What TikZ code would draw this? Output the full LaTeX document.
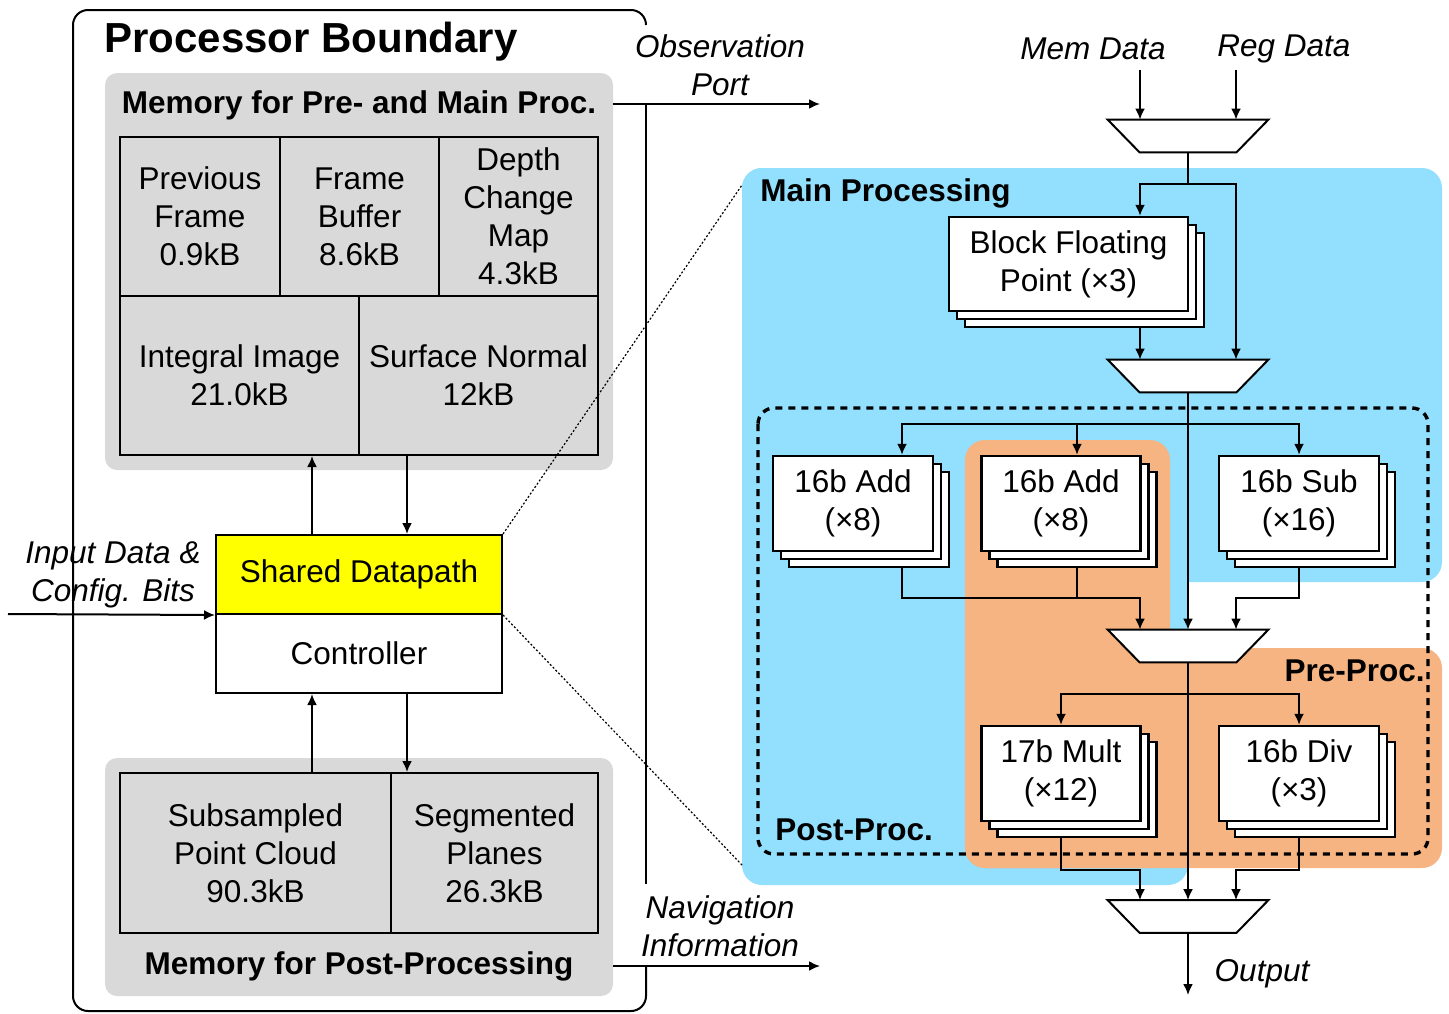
\documentclass[tikz,border=0pt]{standalone}
\usepackage{fontspec}
\setmainfont{Liberation Sans}
\usetikzlibrary{arrows.meta,calc}
\definecolor{memgray}{RGB}{217,217,217}
\definecolor{mainblue}{RGB}{146,223,254}
\definecolor{preorange}{RGB}{245,180,130}
\definecolor{dpyellow}{RGB}{255,255,0}
\pgfdeclarelayer{bg}
\pgfdeclarelayer{conn}
\pgfsetlayers{bg,conn,main}
\newcommand\fsn{\fontsize{15.75pt}{19pt}\selectfont}
\newcommand\fst{\fontsize{21pt}{25pt}\selectfont}
\newcommand\muxat[2]{%
  \node[muxnode] (#1) at (#2) {};
  \draw[muxline] (#1.north west) -- (#1.north east) -- ([xshift=-16pt]#1.south east) -- ([xshift=16pt]#1.south west) -- cycle;}
\newcommand\stk[6]{%
  \draw[stackline] ({#2-#4/2+16},{#3-#5/2+16}) rectangle ({#2+#4/2+16},{#3+#5/2+16});
  \draw[stackline] ({#2-#4/2+8},{#3-#5/2+8}) rectangle ({#2+#4/2+8},{#3+#5/2+8});
  \node[stackbox, minimum width=#4*0.5pt, minimum height=#5*0.5pt] (#1) at (#2,#3) {#6};}
\begin{document}
\begin{tikzpicture}[x=0.5pt,y=-0.5pt,
  wire/.style={line width=1pt},
  arr/.style={line width=1pt, -{Latex[length=5.5pt,width=5pt]}},
  cell/.style={draw, line width=1pt, fill=memgray, inner sep=0pt, align=center, font=\fsn},
  membg/.style={fill=memgray, rounded corners=6pt, inner sep=0pt, draw=none},
  stackbox/.style={draw, line width=1.2pt, fill=white, inner sep=0pt, align=center, font=\fsn},
  stackline/.style={line width=1.2pt, fill=white},
  muxnode/.style={inner sep=0pt, minimum width=80pt, minimum height=16pt},
  muxline/.style={line width=1pt, fill=white, line join=miter},
  ilbl/.style={font=\fsn\itshape, align=center, inner sep=0pt},
  blbl/.style={font=\fsn\bfseries, inner sep=0pt},
  dotline/.style={line width=0.6pt, dash pattern=on 1pt off 1pt},
  dashregion/.style={line width=1.7pt, dash pattern=on 3.5pt off 3pt, rounded corners=8pt}]
\useasboundingbox (0,0) rectangle (1449,1013);
% helper coordinates
\coordinate (xL) at (1140,0);
\coordinate (xR) at (1236,0);
\coordinate (xa1) at (902,0);
\coordinate (xa2) at (1077,0);
\coordinate (xup) at (312,0);
\coordinate (xdn) at (407,0);
\coordinate (yo1) at (0,598);
\coordinate (yo2) at (0,870);
% background regions
\begin{pgfonlayer}{bg}
\fill[mainblue, rounded corners=10pt] (742,168) rectangle (1442,582);
\fill[mainblue, rounded corners=10pt] (742,168) rectangle (1188,885);
\fill[preorange, rounded corners=10pt] (965,440) rectangle (1170,868);
\fill[preorange, rounded corners=10pt] (965,648) rectangle (1442,868);
\draw[dashregion] (758,408) rectangle (1428,854);
\end{pgfonlayer}
% processor boundary
\draw[line width=1pt, rounded corners=7.5pt] (646,25) |- (73,10) |- (646,1011) -- (646,966);
\draw[wire] (646,104) -- (646,884);
\node[blbl, font=\fst\bfseries, anchor=west] (title) at (104,42) {Processor Boundary};
% memory for pre- and main processing
\node[membg, minimum width=254pt, minimum height=198.5pt] (memtop) at (359,271.5) {};
\node[blbl] (memtoplbl) at (359,105) {Memory for Pre- and Main Proc.};
\node[cell, minimum width=80pt, minimum height=79.5pt] (prev) at (200,216.5) {Previous\\Frame\\0.9kB};
\node[cell, minimum width=79.5pt, minimum height=79.5pt] (fbuf) at (359.5,216.5) {Frame\\Buffer\\8.6kB};
\node[cell, minimum width=79.5pt, minimum height=79.5pt] (dcm) at (518.5,216.5) {Depth\\Change\\Map\\4.3kB};
\node[cell, minimum width=119.5pt, minimum height=79.5pt] (integ) at (239.5,375.5) {Integral Image\\21.0kB};
\node[cell, minimum width=119.5pt, minimum height=79.5pt] (surf) at (478.5,375.5) {Surface Normal\\12kB};
% datapath and controller
\node[cell, fill=dpyellow, minimum width=143pt, minimum height=39.5pt] (sdp) at (359,574.5) {Shared Datapath};
\node[cell, fill=white, minimum width=143pt, minimum height=39.5pt] (ctrl) at (359,653.5) {Controller};
% memory for post-processing
\node[membg, minimum width=254pt, minimum height=119pt] (mempost) at (359,877) {};
\node[cell, minimum width=135.5pt, minimum height=80pt] (subs) at (255.5,853) {Subsampled\\Point Cloud\\90.3kB};
\node[cell, minimum width=103.5pt, minimum height=80pt] (segp) at (494.5,853) {Segmented\\Planes\\26.3kB};
\node[blbl] (mempostlbl) at (359,966) {Memory for Post-Processing};
% left connectors
\draw[arr] (xup |- sdp.north) -- (xup |- integ.south);
\draw[arr] (xdn |- surf.south) -- (xdn |- sdp.north);
\draw[arr] (xup |- subs.north) -- (xup |- ctrl.south);
\draw[arr] (xdn |- ctrl.south) -- (xdn |- subs.north);
\coordinate (inp) at (8,614);
\draw[arr] (inp) -- (sdp.south west);
\node[ilbl] (inlbl) at (113,575) {Input Data \&\\Config. Bits};
\coordinate (obsend) at (820,104);
\draw[arr] (memtop.east |- obsend) -- (obsend);
\node[ilbl] (obslbl) at (720,65) {Observation\\Port};
\coordinate (navend) at (820,966);
\draw[arr] (mempost.east |- navend) -- (navend);
\node[ilbl] (navlbl) at (720,926) {Navigation\\Information};
% right side labels
\node[blbl, anchor=west] (mainlbl) at (760,193) {Main Processing};
\node[blbl, anchor=east] (prelbl) at (1425,671) {Pre-Proc.};
\node[blbl, anchor=west] (postlbl) at (775,830) {Post-Proc.};
\node[ilbl] (memdlbl) at (1093,49) {Mem Data};
\node[ilbl] (regdlbl) at (1284,49) {Reg Data};
\node[ilbl] (outlbl) at (1262,974) {Output};
% multiplexers
\muxat{m1}{1188,136}
\muxat{m2}{1188,376}
\muxat{m3}{1188,646}
\muxat{m4}{1188,916.5}
% stacked units
\stk{bfp}{1068.5}{264}{239}{94}{Block Floating\\Point (×3)}
\stk{add1}{853}{503.5}{160}{95}{16b Add\\(×8)}
\stk{add2}{1061}{503.5}{159}{95}{16b Add\\(×8)}
\stk{sub}{1299}{503.5}{160}{95}{16b Sub\\(×16)}
\stk{mult}{1061}{773.5}{159}{95}{17b Mult\\(×12)}
\stk{div}{1299}{773.5}{160}{95}{16b Div\\(×3)}
% right connectors
\begin{pgfonlayer}{conn}
\coordinate (mdin) at (1140,70);
\coordinate (rdin) at (1236,70);
\draw[arr] (mdin) -- (mdin |- m1.north);
\draw[arr] (rdin) -- (rdin |- m1.north);
\coordinate (br1) at (1188,184);
\draw[wire] (m1.south) -- (br1);
\draw[arr] (br1) -| (xL |- bfp.north);
\draw[arr] (br1) -| (xR |- m2.north);
\draw[arr] (xL |- bfp.south) -- (xL |- m2.north);
\draw[arr] (m2.south) -- (m3.north);
\coordinate (br2) at (1188,424);
\draw[arr] (br2) -| (xa1 |- add1.north);
\draw[arr] (br2) -| (sub.north);
\draw[arr] (xa2 |- br2) -- (xa2 |- add2.north);
\draw[arr] (xa1 |- add1.south) |- (xL |- yo1) -- (xL |- m3.north);
\draw[wire] (xa2 |- add2.south) -- (xa2 |- yo1);
\draw[arr] (sub.south) |- (xR |- yo1) -- (xR |- m3.north);
\draw[arr] (m3.south) -- (m4.north);
\coordinate (br3) at (1188,694);
\draw[arr] (br3) -| (mult.north);
\draw[arr] (br3) -| (div.north);
\draw[arr] (mult.south) |- (xL |- yo2) -- (xL |- m4.north);
\draw[arr] (div.south) |- (xR |- yo2) -- (xR |- m4.north);
\coordinate (outend) at (1188,995);
\draw[arr] (m4.south) -- (outend);
\end{pgfonlayer}
% zoom indicator lines
\coordinate (zt) at (742,185);
\coordinate (zb) at (742,865);
\draw[dotline] (sdp.north east) -- (zt);
\draw[dotline] (sdp.south east) -- (zb);
\end{tikzpicture}
\end{document}
